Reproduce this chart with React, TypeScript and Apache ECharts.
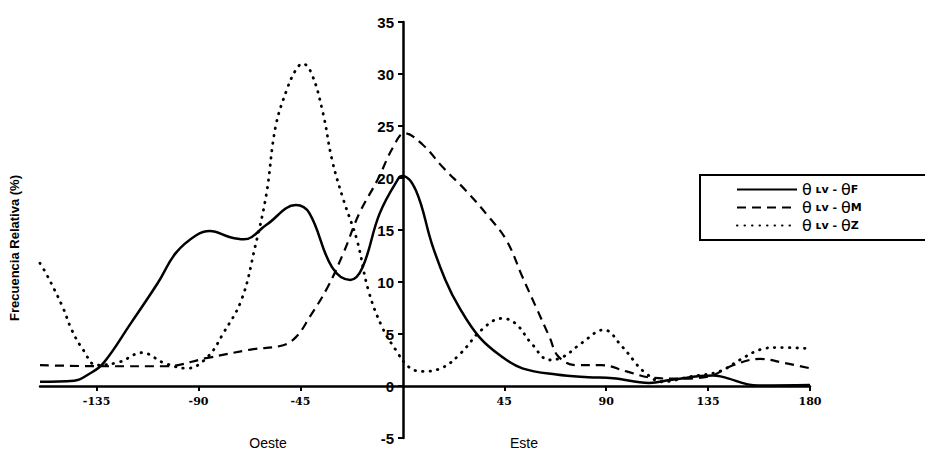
import React, { useEffect, useRef } from "react";
import * as echarts from "echarts";

// Angle (degrees) sample positions and relative frequency (%)
const fX = [-160, -145, -138, -132, -120, -108, -100, -91, -85, -76, -70, -60, -47, -41, -31, -23, -17.6, -10, -1.3, 0, 6, 13, 19, 25, 34, 44, 53, 68, 82, 93, 109, 119, 137, 141, 157, 180];
const fY = [0.4, 0.5, 1.2, 2.2, 6, 9.9, 12.8, 14.5, 14.9, 14.3, 14.1, 15.5, 17.4, 16.6, 11.4, 10.2, 11.4, 16.6, 20.1, 20.2, 18.8, 13.7, 10.2, 7.6, 4.7, 2.8, 1.7, 1.1, 0.85, 0.75, 0.3, 0.6, 1.0, 0.9, 0.05, 0.1];

const mX = [-160, -130, -105, -86, -67, -53, -47, -41, -33, -26, -19, -11, -4, 1, 9, 18, 28, 38, 46, 53, 59, 65, 69, 77, 88, 99, 110, 122, 135, 146, 158, 169, 180];
const mY = [2.0, 1.9, 1.9, 2.7, 3.5, 3.9, 4.7, 6.6, 9.5, 12.8, 16.6, 19.8, 23, 24.3, 23.2, 21, 18.8, 16.3, 14, 10.5, 7.6, 4.7, 2.8, 2.0, 2.0, 1.4, 0.8, 0.7, 0.9, 2.0, 2.6, 2.2, 1.7];

const zX = [-160, -157, -150, -146, -141, -135, -125, -115, -105, -95, -86, -79, -71, -65, -60, -56, -51, -47, -44, -40, -35, -31, -26, -20, -15, -9, -3, 3, 9, 18, 26, 35, 44, 50, 57, 65, 71, 79, 89, 97, 102, 106, 115, 127, 140, 149, 158, 166, 180];
const zY = [11.8, 10.7, 7.6, 5.4, 3.5, 2.0, 2.3, 3.2, 2.2, 1.7, 2.8, 5.1, 8.3, 13.4, 18.5, 24.9, 28.5, 30.4, 31.0, 30, 26.2, 21.7, 17.9, 14, 9.2, 5.7, 3.5, 1.8, 1.4, 1.8, 3.2, 5.4, 6.5, 6, 4.1, 2.5, 2.8, 4.1, 5.4, 3.8, 2.5, 1.5, 0.4, 0.9, 1.4, 2.5, 3.5, 3.7, 3.6];

const xTicks = [-135, -90, -45, 45, 90, 135, 180];
const seriesNames = ["F", "M", "Z"];

const pairs = (xs: number[], ys: number[]) => xs.map((x, i) => [x, ys[i]]);

export default function App() {
  const ref = useRef<HTMLDivElement>(null);
  useEffect(() => {
    if (!ref.current) return;
    const chart = echarts.init(ref.current, null, { renderer: "svg" });
    const font = "Liberation Sans, Arial, sans-serif";
    chart.setOption({
      animation: false,
      backgroundColor: "#ffffff",
      grid: { left: 40, right: 115, top: 22, bottom: 19, containLabel: false },
      xAxis: {
        type: "value",
        min: -160,
        max: 180,
        position: "bottom",
        offset: -52,
        splitLine: { show: false },
        axisLine: { onZero: false, lineStyle: { color: "#000", width: 2.5 } },
        axisTick: { show: true, customValues: xTicks, length: 5, inside: false, lineStyle: { color: "#000", width: 2 } },
        axisLabel: {
          customValues: xTicks,
          color: "#000",
          fontSize: 11,
          fontFamily: "DejaVu Serif, serif",
          fontWeight: "bold",
          margin: 10,
        },
      },
      yAxis: {
        type: "value",
        min: -5,
        max: 35,
        interval: 5,
        position: "left",
        offset: -363,
        splitLine: { show: false },
        axisLine: { onZero: false, lineStyle: { color: "#000", width: 2.5 } },
        axisTick: { show: true, length: 5, lineStyle: { color: "#000", width: 2 } },
        axisLabel: { color: "#000", fontSize: 15, fontWeight: "bold", fontFamily: font, margin: 9 },
      },
      legend: {
        orient: "vertical",
        left: 736,
        top: 181,
        itemWidth: 60,
        itemHeight: 10,
        itemGap: 1,
        padding: 0,
        data: seriesNames,
        itemStyle: { opacity: 0 },
        formatter: (n: string) => `{t|θ}{s| ʟᴠ - }{t|θ}{s|${n}}`,
        textStyle: {
          color: "#000",
          lineHeight: 17,
          rich: {
            t: { fontSize: 16, lineHeight: 17, fontFamily: "DejaVu Sans, sans-serif", color: "#000" },
            s: { fontSize: 11, lineHeight: 17, fontFamily: "DejaVu Sans, sans-serif", fontWeight: "bold", color: "#000" },
          },
        },
      },
      graphic: [
        { type: "rect", shape: { x: 700, y: 175, width: 300, height: 65 }, style: { fill: "none", stroke: "#000", lineWidth: 2 } },
        { type: "text", x: 268, y: 443, style: { text: "Oeste", fontSize: 14, fontFamily: font, fill: "#000", align: "center", verticalAlign: "middle" } },
        { type: "text", x: 524, y: 443, style: { text: "Este", fontSize: 14, fontFamily: font, fill: "#000", align: "center", verticalAlign: "middle" } },
        { type: "text", x: 14, y: 248, rotation: Math.PI / 2, style: { text: "Frecuencia Relativa (%)", fontSize: 13, fontWeight: "bold", fontFamily: font, fill: "#000", align: "center", verticalAlign: "middle" } },
      ],
      series: [
        {
          name: "F",
          type: "line",
          smooth: 0.4,
          symbol: "none",
          data: pairs(fX, fY),
          lineStyle: { color: "#000", width: 2.5, type: "solid" },
          itemStyle: { color: "#000" },
        },
        {
          name: "M",
          type: "line",
          smooth: 0.4,
          symbol: "none",
          data: pairs(mX, mY),
          lineStyle: { color: "#000", width: 2.2, type: [9, 6] },
          itemStyle: { color: "#000" },
        },
        {
          name: "Z",
          type: "line",
          smooth: 0.4,
          symbol: "none",
          data: pairs(zX, zY),
          lineStyle: { color: "#000", width: 2.8, type: [0.5, 7], cap: "round" },
          itemStyle: { color: "#000" },
        },
      ],
    });
    return () => chart.dispose();
  }, []);
  return <div ref={ref} style={{ position: "fixed", left: 0, top: 0, width: 925, height: 457 }} />;
}
